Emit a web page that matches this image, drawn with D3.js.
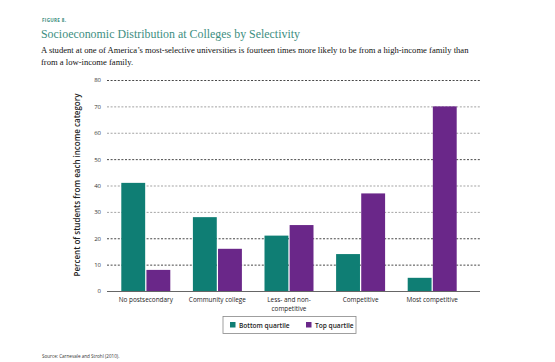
<!DOCTYPE html>
<html>
<head>
<meta charset="utf-8">
<script src="https://cdn.jsdelivr.net/npm/d3@7"></script>
<style>
  body { margin: 0; background: #fff; }
  svg { display: block; }
</style>
</head>
<body>
<svg width="555" height="362"></svg>
<script>
const categories = [
  ["No postsecondary"],
  ["Community college"],
  ["Less- and non-", "competitive"],
  ["Competitive"],
  ["Most competitive"]
];
const seriesNames = ["Bottom quartile", "Top quartile"];
const bottomQuartile = [41, 28, 21, 14, 5];
const topQuartile = [8, 16, 25, 37, 70];
const yTicks = [0, 10, 20, 30, 40, 50, 60, 70, 80];

const teal = '#0f7e74', purple = '#6a2789', titleColor = '#3d8e81';

const svg = d3.select('svg');

// header
svg.append('text').attr('x', 42).attr('y', 22)
  .attr('font-family', 'Open Sans, sans-serif').attr('font-size', 4.6)
  .attr('font-weight', 'bold').attr('fill', titleColor).attr('letter-spacing', 0.3)
  .text('FIGURE 8.');
svg.append('text').attr('x', 41).attr('y', 38)
  .attr('font-family', "'Liberation Serif', 'DejaVu Serif', serif").attr('font-size', 12.6)
  .attr('fill', titleColor)
  .attr('textLength', 259).attr('lengthAdjust', 'spacingAndGlyphs')
  .text('Socioeconomic Distribution at Colleges by Selectivity');
const sub = svg.append('text')
  .attr('font-family', "'Liberation Serif', serif").attr('font-size', 8.6).attr('fill', '#111');
sub.append('tspan').attr('x', 41).attr('y', 53)
  .text('A student at one of America\u2019s most-selective universities is fourteen times more likely to be from a high-income family than');
sub.append('tspan').attr('x', 41).attr('y', 64.5).text('from a low-income family.');

// scales
const y = d3.scaleLinear().domain([0, 80]).range([291, 80]);
const x = d3.scaleBand().domain(d3.range(categories.length)).range([110, 468]);
const inner = d3.scaleBand().domain([0, 1]).range([x.bandwidth() / 2 - 24.5, x.bandwidth() / 2 + 24.5]).paddingInner(0.05);

// grid
svg.append('g').selectAll('line').data(yTicks.filter(d => d > 0)).enter().append('line')
  .attr('x1', 107).attr('x2', 480)
  .attr('y1', d => y(d) + 0.5).attr('y2', d => y(d) + 0.5)
  .attr('stroke', d => (d % 30 === 20 || d === 10) ? '#333' : '#999')
  .attr('stroke-width', 0.9)
  .attr('stroke-dasharray', '2,1.6');

// y axis tick labels
const yAxis = d3.axisLeft(y).tickValues(yTicks).tickSize(0).tickPadding(0);
svg.append('g').attr('transform', 'translate(101,0)').call(yAxis)
  .call(g => g.select('.domain').remove())
  .selectAll('text')
  .attr('font-family', 'Open Sans, sans-serif').attr('font-size', 6).attr('fill', '#333');

// bars
const groups = svg.append('g').selectAll('g').data(categories).enter().append('g')
  .attr('transform', (d, i) => `translate(${x(i)},0)`);
groups.append('rect')
  .attr('x', inner(0)).attr('width', inner.bandwidth())
  .attr('y', (d, i) => y(bottomQuartile[i]))
  .attr('height', (d, i) => y(0) - y(bottomQuartile[i]))
  .attr('fill', teal);
groups.append('rect')
  .attr('x', inner(1)).attr('width', inner.bandwidth())
  .attr('y', (d, i) => y(topQuartile[i]))
  .attr('height', (d, i) => y(0) - y(topQuartile[i]))
  .attr('fill', purple);

// baseline
svg.append('line').attr('x1', 107).attr('x2', 480)
  .attr('y1', y(0) + 0.5).attr('y2', y(0) + 0.5)
  .attr('stroke', '#666').attr('stroke-width', 1);

// x labels
const xl = groups.append('text')
  .attr('text-anchor', 'middle')
  .attr('font-family', 'Open Sans, sans-serif').attr('font-size', 6.4).attr('fill', '#222');
xl.selectAll('tspan').data(d => d).enter().append('tspan')
  .attr('x', x.bandwidth() / 2)
  .attr('y', (d, i) => 302 + i * 8.6)
  .text(d => d);

// y axis title
svg.append('text')
  .attr('transform', 'translate(80,185) rotate(-90)')
  .attr('text-anchor', 'middle')
  .attr('font-family', 'Open Sans, sans-serif').attr('font-size', 8).attr('font-weight', 600)
  .attr('fill', '#222')
  .text('Percent of students from each income category');

// legend
const legend = svg.append('g');
legend.append('rect').attr('x', 223).attr('y', 316.5).attr('width', 133).attr('height', 17)
  .attr('fill', '#fff').attr('stroke', '#888').attr('stroke-width', 0.8);
const legX = [230, 306];
seriesNames.forEach((name, i) => {
  legend.append('rect').attr('x', legX[i]).attr('y', 322).attr('width', 5.5).attr('height', 5.5)
    .attr('fill', i === 0 ? teal : purple);
  legend.append('text').attr('x', legX[i] + 9).attr('y', 327.5)
    .attr('font-family', 'Open Sans, sans-serif').attr('font-size', 6.6).attr('font-weight', 600)
    .attr('fill', '#222').text(name);
});

// source
svg.append('text').attr('x', 42).attr('y', 358)
  .attr('font-family', 'Open Sans, sans-serif').attr('font-size', 4.6).attr('fill', '#333')
  .text('Source: Carnevale and Strohl (2010).');
</script>
</body>
</html>
